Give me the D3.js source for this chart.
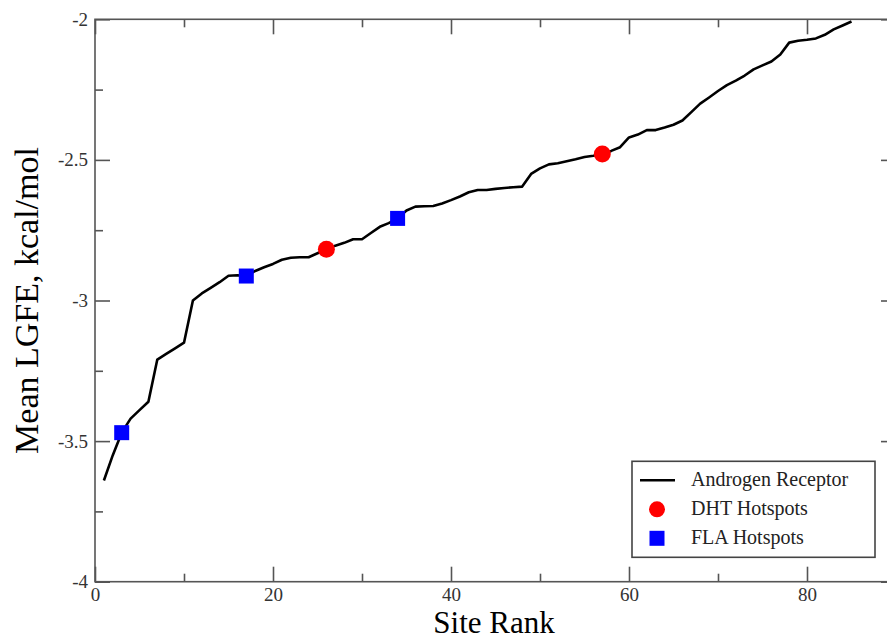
<!DOCTYPE html>
<title>Mean LGFE by site rank, Androgen Receptor</title>
<meta charset="utf-8">
<style>

body {
  margin: 0;
  background: #fff;
  font-family: "Liberation Serif", "Times New Roman", serif;
}

.axis path {
  display: none;
}

.axis line {
  stroke: #555;
  stroke-width: 1.6;
}

.axis text {
  font-family: "Liberation Serif", "Times New Roman", serif;
  font-size: 19px;
  fill: #333;
}

</style>
<body>

<script src="https://d3js.org/d3.v7.min.js"></script>

<script>

// data
var ranks = d3.range(1, 86);
var lgfe = [
  -3.64, -3.55, -3.47, -3.42, -3.39, -3.36, -3.21, -3.19, -3.17, -3.15,
  -3.00, -2.975, -2.955, -2.935, -2.912, -2.91, -2.913, -2.895, -2.882, -2.87,
  -2.855, -2.848, -2.846, -2.846, -2.832, -2.818, -2.805, -2.795, -2.782, -2.782,
  -2.76, -2.738, -2.725, -2.708, -2.68, -2.666, -2.665, -2.664, -2.655, -2.643,
  -2.63, -2.615, -2.607, -2.607, -2.603, -2.60, -2.597, -2.595, -2.55, -2.53,
  -2.516, -2.512, -2.505, -2.498, -2.49, -2.485, -2.479, -2.468, -2.455, -2.42,
  -2.41, -2.394, -2.394, -2.385, -2.375, -2.36, -2.33, -2.30, -2.278, -2.255,
  -2.234, -2.218, -2.20, -2.178, -2.164, -2.15, -2.125, -2.083, -2.076, -2.073,
  -2.068, -2.055, -2.036, -2.022, -2.008
];
var dhtRanks = [26, 57];
var flaRanks = [3, 17, 34];
var xTicks = [0, 20, 40, 60, 80];
var xMinor = [10, 30, 50, 70, 90];
var yTicks = [-4, -3.5, -3, -2.5, -2];
var yMinor = [-3.75, -3.25, -2.75, -2.25];
var legendLabels = ["Androgen Receptor", "DHT Hotspots", "FLA Hotspots"];

var margin = {top: 19.3, left: 95},
    width = 801,
    height = 562.4;

var x = d3.scaleLinear().domain([0, 90]).range([0, width]);
var y = d3.scaleLinear().domain([-4, -2]).range([height, 0]);

var svg = d3.select("body")
    .append("svg")
      .attr("width", 887)
      .attr("height", 641)
      .style("display", "block")
    .append("g")
      .attr("transform", "translate(" + margin.left + "," + margin.top + ")");

var data = ranks.map(function(r, i) { return {rank: r, value: lgfe[i]}; });
var valueAt = function(r) { return lgfe[r - 1]; };
// plain hyphen for negatives, as in the original
var plain = function(d) { return String(d); };

// ticks on all four sides, pointing inward
svg.append("g").attr("class", "axis")
    .attr("transform", "translate(0," + height + ")")
    .call(d3.axisBottom(x).tickValues(xTicks).tickSizeInner(-15).tickSizeOuter(0).tickPadding(6)
      .tickFormat(plain));
svg.append("g").attr("class", "axis")
    .attr("transform", "translate(0," + height + ")")
    .call(d3.axisBottom(x).tickValues(xMinor).tickSizeInner(-8).tickSizeOuter(0).tickFormat(""));
svg.append("g").attr("class", "axis")
    .call(d3.axisTop(x).tickValues(xTicks).tickSizeInner(-15).tickSizeOuter(0).tickFormat(""));
svg.append("g").attr("class", "axis")
    .call(d3.axisTop(x).tickValues(xMinor).tickSizeInner(-8).tickSizeOuter(0).tickFormat(""));

svg.append("g").attr("class", "axis")
    .call(d3.axisLeft(y).tickValues(yTicks).tickSizeInner(-15).tickSizeOuter(0).tickPadding(7)
      .tickFormat(plain));
svg.append("g").attr("class", "axis")
    .call(d3.axisLeft(y).tickValues(yMinor).tickSizeInner(-8).tickSizeOuter(0).tickFormat(""));
svg.append("g").attr("class", "axis")
    .attr("transform", "translate(" + width + ",0)")
    .call(d3.axisRight(y).tickValues(yTicks).tickSizeInner(-15).tickSizeOuter(0).tickFormat(""));
svg.append("g").attr("class", "axis")
    .attr("transform", "translate(" + width + ",0)")
    .call(d3.axisRight(y).tickValues(yMinor).tickSizeInner(-8).tickSizeOuter(0).tickFormat(""));

// frame
svg.append("rect")
    .attr("width", width)
    .attr("height", height)
    .attr("fill", "none")
    .attr("stroke", "#555")
    .attr("stroke-width", 1.6);

// the curve
svg.append("path")
    .datum(data)
    .attr("fill", "none")
    .attr("stroke", "#000")
    .attr("stroke-width", 2.6)
    .attr("stroke-linejoin", "round")
    .attr("d", d3.line()
      .x(function(d) { return x(d.rank); })
      .y(function(d) { return y(d.value); }));

// hotspots
svg.selectAll(".dht")
    .data(dhtRanks)
    .enter().append("circle")
      .attr("class", "dht")
      .attr("cx", function(d) { return x(d); })
      .attr("cy", function(d) { return y(valueAt(d)); })
      .attr("r", 8.5)
      .attr("fill", "#ff0000");

svg.selectAll(".fla")
    .data(flaRanks)
    .enter().append("rect")
      .attr("class", "fla")
      .attr("x", function(d) { return x(d) - 7.5; })
      .attr("y", function(d) { return y(valueAt(d)) - 7.5; })
      .attr("width", 15)
      .attr("height", 15)
      .attr("fill", "#0000ff");

// axis titles
svg.append("text")
    .attr("x", 399)
    .attr("y", 613.7)
    .attr("text-anchor", "middle")
    .style("font-size", "31px")
    .text("Site Rank");

svg.append("text")
    .attr("transform", "translate(-57," + (height / 2) + ") rotate(-90)")
    .attr("text-anchor", "middle")
    .style("font-size", "34px")
    .text("Mean LGFE, kcal/mol");

// legend
var legend = svg.append("g")
    .attr("transform", "translate(537,442)");
legend.append("rect")
    .attr("width", 243)
    .attr("height", 96)
    .attr("fill", "#fff")
    .attr("stroke", "#444")
    .attr("stroke-width", 1.6);
legend.append("line")
    .attr("x1", 8).attr("x2", 43)
    .attr("y1", 19).attr("y2", 19)
    .attr("stroke", "#000")
    .attr("stroke-width", 2.6);
legend.append("circle")
    .attr("cx", 25).attr("cy", 48)
    .attr("r", 8)
    .attr("fill", "#ff0000");
legend.append("rect")
    .attr("x", 17.5).attr("y", 69.5)
    .attr("width", 15).attr("height", 15)
    .attr("fill", "#0000ff");
legend.selectAll(".label")
    .data(legendLabels)
    .enter().append("text")
      .attr("class", "label")
      .attr("x", 59)
      .attr("y", function(d, i) { return 25 + i * 29; })
      .style("font-size", "20px")
      .style("fill", "#222")
      .text(function(d) { return d; });

</script>
</body>
